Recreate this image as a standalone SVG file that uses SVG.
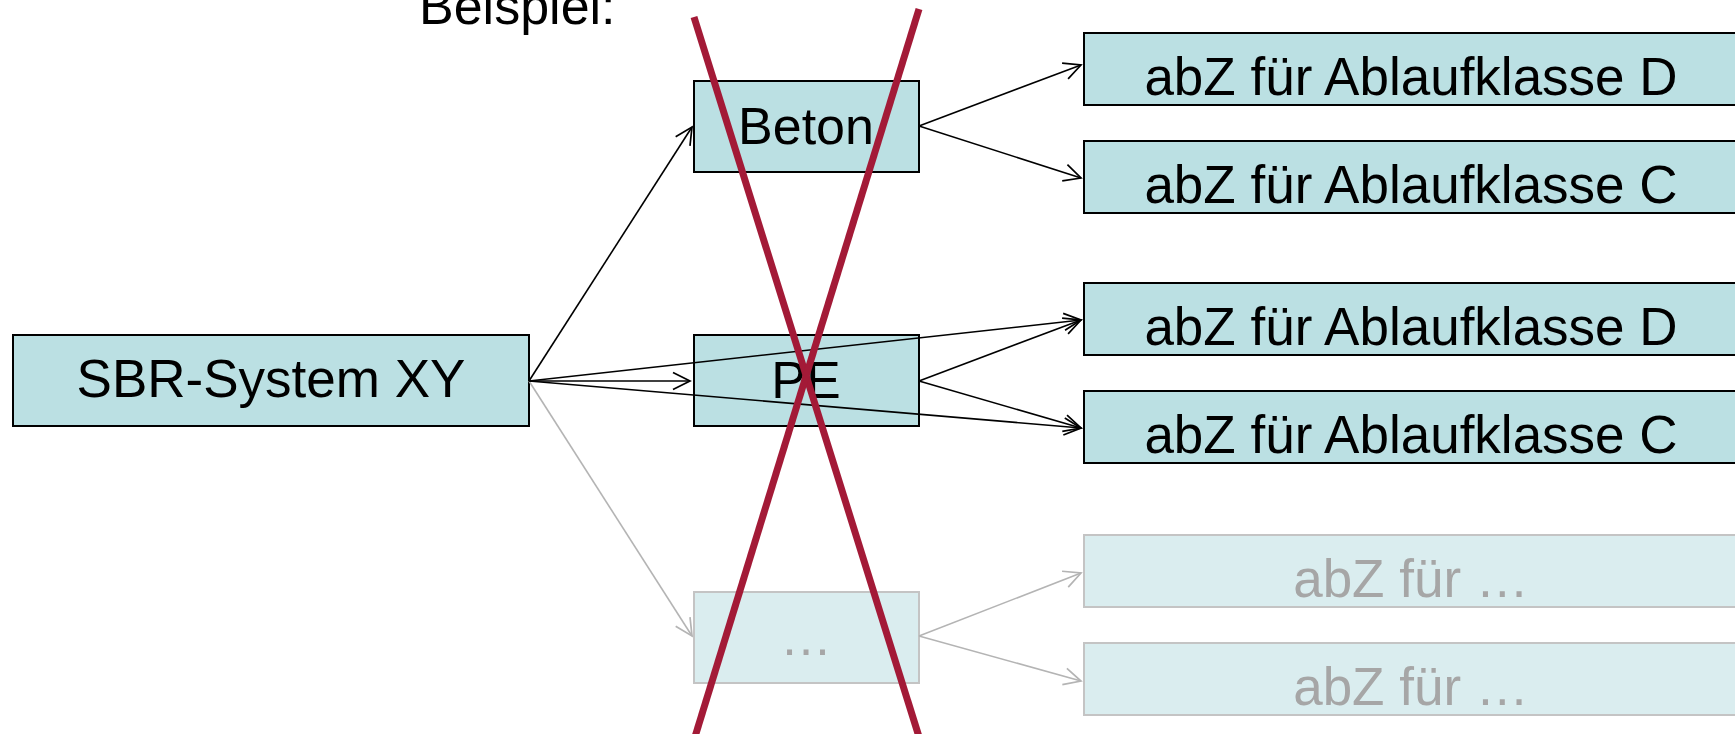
<svg xmlns="http://www.w3.org/2000/svg" width="1735" height="734" viewBox="0 0 1735 734">
  <style>
    .box { fill: #bbe0e3; stroke: #000; stroke-width: 2; }
    .faint { fill: #daedef; stroke: #c4c4c4; stroke-width: 2; }
    .lbl { font-family: "Liberation Sans", Arial, sans-serif; font-size: 52px; fill: #000; text-anchor: middle; }
    .lbl-r { font-size: 53px; }
    .lbl-faint { fill: #a6a6a6; }
    .edge { stroke: #000; stroke-width: 1.6; fill: none; marker-end: url(#arrow); }
    .edge-faint { stroke: #b4b4b4; stroke-width: 1.6; fill: none; marker-end: url(#arrow-faint); }
    .cross { stroke: #a31a37; stroke-width: 7; }
  </style>
  <defs>
    <marker id="arrow" markerUnits="userSpaceOnUse" markerWidth="22" markerHeight="22" viewBox="0 0 22 22" refX="20" refY="11" orient="auto">
      <path d="M3,2.5 L20,11 L3,19.5" fill="none" stroke="#000" stroke-width="1.7"/>
    </marker>
    <marker id="arrow-faint" markerUnits="userSpaceOnUse" markerWidth="22" markerHeight="22" viewBox="0 0 22 22" refX="20" refY="11" orient="auto">
      <path d="M3,2.5 L20,11 L3,19.5" fill="none" stroke="#b4b4b4" stroke-width="1.7"/>
    </marker>
  </defs>

  <rect width="1735" height="734" fill="#fff"/>

  <!-- heading sits partly above the top edge -->
  <text id="title" class="lbl" x="419" y="24" style="text-anchor:start">Beispiel:</text>

  <g id="sbr">
    <rect class="box" x="13" y="335" width="516" height="91"/>
    <text class="lbl" x="271" y="397" style="font-size:53px">SBR-System XY</text>
  </g>

  <g id="beton">
    <rect class="box" x="694" y="81" width="225" height="91"/>
    <text class="lbl" x="806" y="144">Beton</text>
  </g>

  <g id="pe">
    <rect class="box" x="694" y="335" width="225" height="91"/>
    <text class="lbl" x="806" y="398">PE</text>
  </g>

  <g id="other">
    <rect class="faint" x="694" y="592" width="225" height="91"/>
    <text class="lbl lbl-faint" x="806" y="655">…</text>
  </g>

  <g id="beton-d">
    <rect class="box" x="1084" y="33" width="653" height="72"/>
    <text class="lbl lbl-r" x="1411" y="95">abZ für Ablaufklasse D</text>
  </g>
  <g id="beton-c">
    <rect class="box" x="1084" y="141" width="653" height="72"/>
    <text class="lbl lbl-r" x="1411" y="203">abZ für Ablaufklasse C</text>
  </g>
  <g id="pe-d">
    <rect class="box" x="1084" y="283" width="653" height="72"/>
    <text class="lbl lbl-r" x="1411" y="345">abZ für Ablaufklasse D</text>
  </g>
  <g id="pe-c">
    <rect class="box" x="1084" y="391" width="653" height="72"/>
    <text class="lbl lbl-r" x="1411" y="453">abZ für Ablaufklasse C</text>
  </g>
  <g id="other-1">
    <rect class="faint" x="1084" y="535" width="653" height="72"/>
    <text class="lbl lbl-r lbl-faint" x="1411" y="597">abZ für …</text>
  </g>
  <g id="other-2">
    <rect class="faint" x="1084" y="643" width="653" height="72"/>
    <text class="lbl lbl-r lbl-faint" x="1411" y="705">abZ für …</text>
  </g>

  <g id="connectors">
    <line class="edge" x1="529" y1="381" x2="692" y2="127"/>
    <line class="edge" x1="529" y1="381" x2="690" y2="381"/>
    <line class="edge-faint" x1="529" y1="381" x2="692" y2="636"/>
    <line class="edge" x1="529" y1="381" x2="1081" y2="320"/>
    <line class="edge" x1="529" y1="381" x2="1081" y2="428"/>
    <line class="edge" x1="919" y1="126" x2="1081" y2="65"/>
    <line class="edge" x1="919" y1="126" x2="1081" y2="178"/>
    <line class="edge" x1="919" y1="381" x2="1081" y2="320"/>
    <line class="edge" x1="919" y1="381" x2="1081" y2="428"/>
    <line class="edge-faint" x1="919" y1="636" x2="1081" y2="573"/>
    <line class="edge-faint" x1="919" y1="636" x2="1081" y2="681"/>
  </g>

  <g id="strike">
    <line class="cross" x1="694" y1="17" x2="920" y2="740"/>
    <line class="cross" x1="919" y1="9" x2="694" y2="740"/>
  </g>
</svg>
